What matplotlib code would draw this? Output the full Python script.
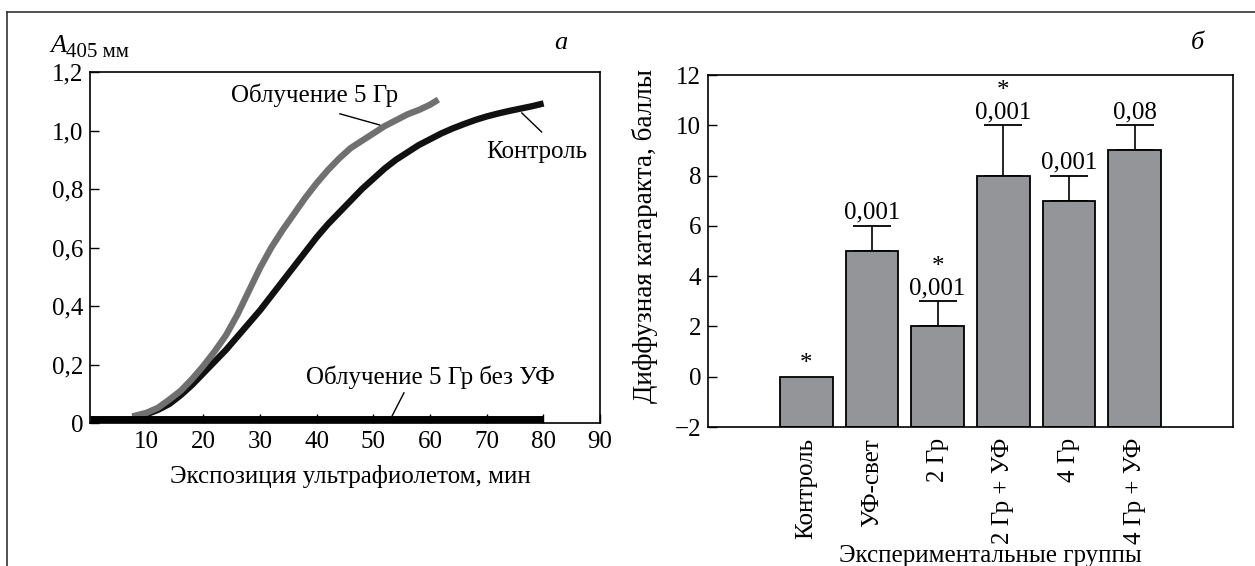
import matplotlib.pyplot as plt
from matplotlib.lines import Line2D
import numpy as np

plt.rcParams['font.family'] = ['Liberation Serif', 'DejaVu Serif']
plt.rcParams['axes.linewidth'] = 1.2

# --- panel a: absorbance curves ---
irr_x = [8, 10, 12, 14, 16, 18, 20, 22, 24, 26, 28, 30, 32, 34, 36, 38, 40,
         42, 44, 46, 48, 50, 52, 54, 56, 58, 60, 61]
irr_y = [0.025, 0.035, 0.052, 0.08, 0.11, 0.15, 0.195, 0.245, 0.30, 0.37, 0.45,
         0.53, 0.60, 0.66, 0.715, 0.77, 0.82, 0.865, 0.905, 0.94, 0.965, 0.99,
         1.015, 1.035, 1.055, 1.07, 1.088, 1.10]

ctrl_x = [10, 12, 14, 16, 18, 20, 22, 24, 26, 28, 30, 32, 34, 36, 38, 40, 42, 44,
          46, 48, 50, 52, 54, 56, 58, 60, 62, 64, 66, 68, 70, 72, 74, 76, 78, 79.5]
ctrl_y = [0.03, 0.045, 0.065, 0.095, 0.13, 0.17, 0.21, 0.25, 0.295, 0.34, 0.385,
          0.435, 0.485, 0.535, 0.585, 0.635, 0.68, 0.72, 0.76, 0.80, 0.835, 0.87,
          0.90, 0.925, 0.95, 0.97, 0.99, 1.007, 1.022, 1.036, 1.048, 1.058, 1.067,
          1.075, 1.083, 1.09]

noUV_x = [0, 80]
noUV_y = [0.012, 0.012]

# --- panel b: bar chart ---
groups = ['Контроль', 'УФ-свет', '2 Гр', '2 Гр + УФ', '4 Гр', '4 Гр + УФ']
scores = [0, 5, 2, 8, 7, 9]
errors = [0, 1, 1, 2, 1, 1]
p_labels = ['', '0,001', '0,001', '0,001', '0,001', '0,08']
stars = [True, False, True, True, False, False]
y_floor = -2

W, H = 1255, 566
fig = plt.figure(figsize=(W / 100, H / 100), dpi=100)

# outer frame (open at the bottom)
fig.add_artist(Line2D([7 / W, 7 / W], [0, 1 - 12 / H], color='#333333', lw=1.2))
fig.add_artist(Line2D([7 / W, 1], [1 - 12 / H, 1 - 12 / H], color='#333333', lw=1.2))

# ---------- panel a ----------
ax1 = fig.add_axes([90 / W, 1 - 423 / H, 510 / W, 351 / H])
ax1.plot(noUV_x, noUV_y, color='black', lw=5, solid_capstyle='butt', zorder=3)
ax1.plot(ctrl_x, ctrl_y, color='#111111', lw=4.6, zorder=2)
ax1.plot(irr_x, irr_y, color='#707070', lw=4.6, zorder=2)

ax1.set_xlim(0, 90)
ax1.set_ylim(0, 1.2)
ax1.set_xticks(range(10, 91, 10))
ax1.set_yticks([0, 0.2, 0.4, 0.6, 0.8, 1.0, 1.2])
ax1.set_yticklabels(['0' if v == 0 else f'{v:.1f}'.replace('.', ',')
                     for v in ax1.get_yticks()])
ax1.tick_params(direction='in', length=6.5, width=1, labelsize=18,
                top=False, right=False)
ax1.tick_params(axis='x', pad=6)
ax1.tick_params(axis='y', pad=5)

ax1.text(39.7, 1.121, 'Облучение 5 Гр', fontsize=18, ha='center', va='center')
ax1.plot([44.1, 51.1], [1.057, 1.019], color='black', lw=1)
ax1.text(78.8, 0.926, 'Контроль', fontsize=18, ha='center', va='center')
ax1.plot([76.2, 79.7], [1.06, 0.995], color='black', lw=1)
ax1.text(60.0, 0.157, 'Облучение 5 Гр без УФ', fontsize=18, ha='center', va='center')
ax1.plot([55.4, 53.2], [0.103, 0.02], color='black', lw=1)

fig.text(350 / W, 1 - 477 / H, 'Экспозиция ультрафиолетом, мин', fontsize=18,
         ha='center', va='center')
fig.text(50 / W, 1 - 52 / H, 'A', fontsize=19, style='italic', ha='left', va='baseline')
fig.text(66 / W, 1 - 57 / H, '405 мм', fontsize=15, ha='left', va='baseline')
fig.text(561 / W, 1 - 43 / H, 'а', fontsize=19, style='italic', ha='center', va='center')

# ---------- panel b ----------
ax2 = fig.add_axes([708 / W, 1 - 427 / H, 525 / W, 352 / H])
x = np.arange(len(groups))
vals = np.array(scores)
ax2.bar(x, vals - y_floor, bottom=y_floor, width=0.8, color='#939598',
        edgecolor='black', linewidth=1.3, zorder=2)
err = np.array(errors)
m = err > 0
ax2.errorbar(x[m], vals[m], yerr=[np.zeros(m.sum()), err[m]],
             fmt='none', ecolor='black', elinewidth=1.2, capsize=14, capthick=1.3, zorder=1)

for i in range(len(groups)):
    top = scores[i] + errors[i]
    if p_labels[i]:
        ax2.annotate(p_labels[i], (x[i], top), xytext=(0, 5), textcoords='offset points',
                     ha='center', va='baseline', fontsize=18)
    if stars[i]:
        off = 25 if p_labels[i] else 9
        ax2.annotate('*', (x[i], top), xytext=(0, off), textcoords='offset points',
                     ha='center', va='center', fontsize=18)

ax2.set_xlim(-1.5, 6.5)
ax2.set_ylim(-2, 12)
ax2.set_yticks(range(-2, 13, 2))
ax2.set_yticklabels([str(v).replace('-', '\u2212') for v in range(-2, 13, 2)])
ax2.set_xticks(x)
ax2.set_xticklabels(groups, rotation=90, va='top', ha='center')
ax2.tick_params(axis='y', direction='in', length=6.5, width=1, labelsize=18, pad=5)
ax2.tick_params(axis='x', length=0, labelsize=18, pad=8)

fig.text(645 / W, 1 - 236 / H, 'Диффузная катаракта, баллы', fontsize=19.5,
         rotation=90, ha='center', va='center')
fig.text(990 / W, 1 - 545 / H, 'Экспериментальные группы', fontsize=18,
         ha='center', va='top')
fig.text(1197 / W, 1 - 43 / H, 'б', fontsize=19, style='italic', ha='center', va='center')

fig.savefig('out.png', dpi=100)
